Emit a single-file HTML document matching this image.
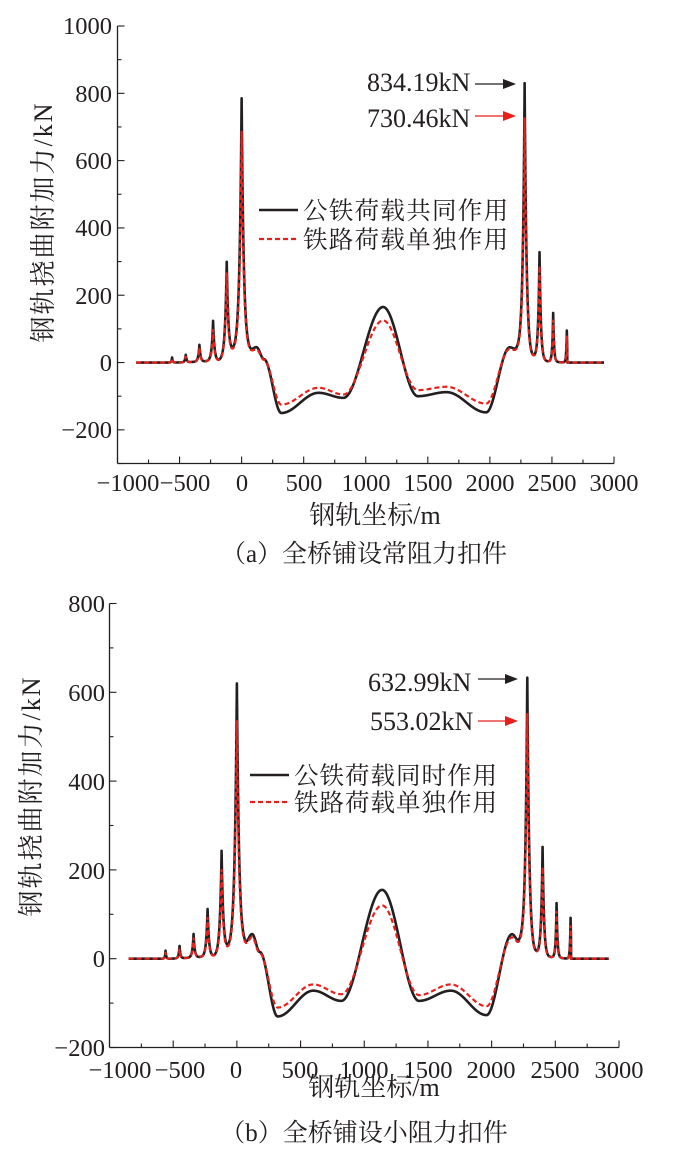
<!DOCTYPE html>
<html><head><meta charset="utf-8"><style>
html,body{margin:0;padding:0;background:#fff;}
svg{display:block;}
text{font-family:"Liberation Serif","Noto Serif CJK SC",serif;fill:#231f20;}
.cj{font-family:"Liberation Serif","Noto Serif CJK SC","Noto Sans CJK SC",serif;}
</style></head><body>
<svg id="s" width="678" height="1155" viewBox="0 0 678 1155" xmlns="http://www.w3.org/2000/svg">
<g id="ga"></g><g id="gb"></g>
<g font-size="24.5" text-anchor="end">
<text x="112" y="34">1000</text><text x="112" y="102">800</text><text x="112" y="169">600</text>
<text x="112" y="236">400</text><text x="112" y="304">200</text><text x="112" y="371">0</text>
<text x="112" y="438">−200</text>
</g>
<g font-size="24.5" text-anchor="middle">
<text x="128" y="491">−1000</text><text x="185" y="491">−500</text><text x="242" y="491">0</text>
<text x="304" y="491">500</text><text x="366" y="491">1000</text><text x="428" y="491">1500</text>
<text x="490" y="491">2000</text><text x="552" y="491">2500</text><text x="614" y="491">3000</text>
</g>
<text class="cj" x="375" y="524" font-size="26" text-anchor="middle">钢轨坐标/m</text>
<text class="cj" x="364" y="562" font-size="25" text-anchor="middle">（a）全桥铺设常阻力扣件</text>
<text class="cj" transform="translate(52,222) rotate(-90)" font-size="26" letter-spacing="2" text-anchor="middle">钢轨挠曲附加力/kN</text>
<line x1="259" y1="210" x2="298" y2="210" stroke="#231f20" stroke-width="2.5"/>
<line x1="259" y1="239" x2="298" y2="239" stroke="#e8201c" stroke-width="2.2" stroke-dasharray="5,3"/>
<text class="cj" x="303" y="219" font-size="24.5" letter-spacing="1.3">公铁荷载共同作用</text>
<text class="cj" x="303" y="248" font-size="24.5" letter-spacing="1.3">铁路荷载单独作用</text>
<text x="367" y="91" font-size="26">834.19kN</text>
<text x="367" y="127" font-size="26">730.46kN</text>
<line x1="475" y1="84" x2="505" y2="84" stroke="#231f20" stroke-width="1.3"/>
<polygon points="503,79 516,84 503,89" fill="#231f20"/>
<line x1="475" y1="116" x2="505" y2="116" stroke="#e8201c" stroke-width="1.3"/>
<polygon points="503,111 516,116 503,121" fill="#e8201c"/>
<g font-size="24.5" text-anchor="end">
<text x="105" y="612">800</text><text x="105" y="701">600</text><text x="105" y="790">400</text>
<text x="105" y="879">200</text><text x="105" y="967">0</text><text x="105" y="1056">−200</text>
</g>
<g font-size="24.5" text-anchor="middle">
<text x="120" y="1078">−1000</text><text x="180" y="1078">−500</text><text x="236" y="1078">0</text>
<text x="300" y="1078">500</text><text x="364" y="1078">1000</text><text x="428" y="1078">1500</text>
<text x="491" y="1078">2000</text><text x="555" y="1078">2500</text><text x="619" y="1078">3000</text>
</g>
<text class="cj" x="374" y="1096" font-size="26" text-anchor="middle">钢轨坐标/m</text>
<text class="cj" x="364" y="1141" font-size="25" text-anchor="middle">（b）全桥铺设小阻力扣件</text>
<text class="cj" transform="translate(40,796) rotate(-90)" font-size="26" letter-spacing="2" text-anchor="middle">钢轨挠曲附加力/kN</text>
<line x1="250" y1="775" x2="289" y2="775" stroke="#231f20" stroke-width="2.5"/>
<line x1="250" y1="802" x2="289" y2="802" stroke="#e8201c" stroke-width="2.2" stroke-dasharray="5,3"/>
<text class="cj" x="294" y="784" font-size="24.5" letter-spacing="1">公铁荷载同时作用</text>
<text class="cj" x="294" y="811" font-size="24.5" letter-spacing="1">铁路荷载单独作用</text>
<text x="368" y="691" font-size="26">632.99kN</text>
<text x="370" y="730" font-size="26">553.02kN</text>
<line x1="478" y1="679" x2="507" y2="679" stroke="#231f20" stroke-width="1.3"/>
<polygon points="505,674 518,679 505,684" fill="#231f20"/>
<line x1="478" y1="721" x2="507" y2="721" stroke="#e8201c" stroke-width="1.3"/>
<polygon points="505,716 518,721 505,726" fill="#e8201c"/>
</svg>
<script>
var NS="http://www.w3.org/2000/svg";
function el(g,t,a){var e=document.createElementNS(NS,t);for(var k in a)e.setAttribute(k,a[k]);g.appendChild(e);return e;}
function interp(pts,x){
  if(x<=pts[0][0])return pts[0][1];
  for(var i=0;i<pts.length-1;i++){var a=pts[i],b=pts[i+1];
    if(x<=b[0]){var t=(x-a[0])/(b[0]-a[0]);var s=(1-Math.cos(Math.PI*t))/2;return a[1]+(b[1]-a[1])*s;}}
  return pts[pts.length-1][1];
}
function makeF(base,spikes){
  return function(x){var y=interp(base,x);
    for(var i=0;i<spikes.length;i++){var s=spikes[i];var d=x-s[0];
      if(s[3]&&d>0){ if(d>3)continue; }
      y+=s[1]*Math.exp(-Math.abs(d)/s[2]);}
    return y;};
}
function axes(g,L,R,T,B,x0,x1,y0,y1){
  var X=function(v){return L+(v-x0)/(x1-x0)*(R-L);},Y=function(v){return B-(v-y0)/(y1-y0)*(B-T);};
  el(g,"line",{x1:L,y1:T,x2:L,y2:B,stroke:"#231f20","stroke-width":1.3});
  el(g,"line",{x1:L,y1:B,x2:R,y2:B,stroke:"#231f20","stroke-width":1.3});
  for(var v=x0;v<=x1+1;v+=250){var maj=(Math.round(v)%500===0);el(g,"line",{x1:X(v),y1:B,x2:X(v),y2:B-(maj?7:4),stroke:"#231f20","stroke-width":1.1});}
  for(var v=y0;v<=y1+1;v+=100){el(g,"line",{x1:L,y1:Y(v),x2:L+(v%200===0?7:4),y2:Y(v),stroke:"#231f20","stroke-width":1.1});}
  return [X,Y];
}
function curve(g,XY,f,from,to,attrs){
  var d="";for(var x=from;x<=to;x+=1){d+=(x===from?"M":"L")+XY[0](x).toFixed(2)+","+XY[1](f(x)).toFixed(2);}
  attrs.d=d;attrs.fill="none";el(g,"path",attrs);
}
var ga=document.getElementById("ga");
var XYa=axes(ga,117.5,614,26,463.5,-1000,3000,-300,1000);
var baseA=[[-850,0],[-560,0],[-200,4],[-60,28],[0,30],[60,30],[120,45],[180,10],[320,-150],[620,-90],[820,-105],[1140,165],[1420,-100],[1650,-88],[1970,-148],[2160,45],[2220,35],[2280,30],[2340,12],[2460,3],[2625,0],[2920,0]];
var spA=[[-560,15,5],[-450,22,7],[-340,50,9],[-230,120,11],[-120,280,13],[0,755,17],[2280,800,15],[2400,320,11],[2510,145,7],[2620,95,5,1]];
var baseAr=[[-850,0],[-560,0],[-200,4],[-60,26],[0,28],[60,28],[120,38],[180,8],[320,-125],[620,-75],[820,-95],[1140,125],[1420,-82],[1650,-72],[1970,-122],[2160,40],[2220,32],[2280,28],[2340,12],[2460,3],[2625,0],[2920,0]];
var spAr=[[-560,12,5],[-450,18,7],[-340,42,9],[-230,95,11],[-120,250,13],[0,660,17],[2280,700,15],[2400,280,11],[2510,125,7],[2620,80,5,1]];
curve(ga,XYa,makeF(baseA,spA),-850,2920,{stroke:"#231f20","stroke-width":2.6,"stroke-linejoin":"round"});
curve(ga,XYa,makeF(baseAr,spAr),-850,2920,{stroke:"#e8201c","stroke-width":2.2,"stroke-dasharray":"5,3"});
var gb=document.getElementById("gb");
var XYb=axes(gb,109.5,619,603.5,1047.5,-1000,3000,-200,800);
var baseB=[[-850,0],[-560,0],[-200,4],[-60,18],[0,25],[60,28],[120,55],[180,15],[320,-130],[600,-72],[820,-95],[1140,155],[1430,-95],[1680,-72],[1960,-127],[2160,55],[2220,35],[2280,30],[2340,10],[2460,3],[2625,0],[2920,0]];
var spB=[[-560,18,5],[-450,28,7],[-340,53,9],[-230,108,11],[-120,230,13],[0,595,17],[2280,603,15],[2400,245,11],[2510,123,7],[2620,92,5,1]];
var baseBr=[[-850,0],[-560,0],[-200,4],[-60,16],[0,22],[60,26],[120,48],[180,12],[320,-110],[600,-58],[820,-80],[1140,120],[1430,-82],[1680,-58],[1960,-107],[2160,48],[2220,32],[2280,28],[2340,10],[2460,3],[2625,0],[2920,0]];
var spBr=[[-560,15,5],[-450,22,7],[-340,45,9],[-230,90,11],[-120,190,13],[0,515,17],[2280,525,15],[2400,200,11],[2510,105,7],[2620,75,5,1]];
curve(gb,XYb,makeF(baseB,spB),-850,2920,{stroke:"#231f20","stroke-width":2.6,"stroke-linejoin":"round"});
curve(gb,XYb,makeF(baseBr,spBr),-850,2920,{stroke:"#e8201c","stroke-width":2.2,"stroke-dasharray":"5,3"});
</script>
</body></html>
